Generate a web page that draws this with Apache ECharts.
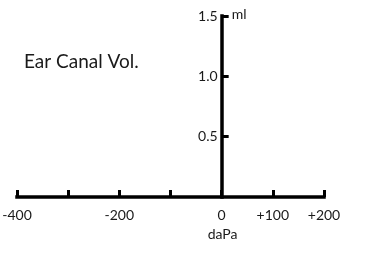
<!DOCTYPE html>
<html><head><meta charset="utf-8">
<script src="https://cdn.jsdelivr.net/npm/echarts@6/dist/echarts.min.js"></script>
<style>html,body{margin:0;padding:0;background:#fff}#c{width:375px;height:253px}</style>
</head><body><div id="c"></div>
<script>
var xTicks = [-400, -300, -200, -100, 0, 100, 200];
var xLabels = [-400, -200, 0, 100, 200];
var yLabels = [0.5, 1.0, 1.5];
var xRange = [-400, 200];
var yRange = [0, 1.5];
var titleText = 'Ear Canal Vol.';
var xName = 'daPa';
var yName = 'ml';
var seriesData = [];

var FONT = 'Lato, "Open Sans", sans-serif';
var GRID_LEFT = 17;
var chart = echarts.init(document.getElementById('c'), null, {renderer: 'canvas'});
var lineStyle = {color: '#000', width: 3.5, cap: 'square'};
chart.setOption({
  animation: false,
  title: {text: titleText, left: 19, top: 47,
    textStyle: {fontFamily: FONT, fontSize: 19, fontWeight: 'normal', color: '#1a1a1a'}},
  grid: {left: GRID_LEFT, right: 51, top: 16, bottom: 56, containLabel: false, outerBoundsMode: 'none'},
  xAxis: {type: 'value', min: xRange[0], max: xRange[1], interval: 100,
    splitLine: {show: false},
    axisLine: {lineStyle: lineStyle},
    axisTick: {inside: true, length: 7, lineStyle: {color: '#000', width: 3}, customValues: xTicks},
    axisLabel: {customValues: xLabels, margin: 11, fontFamily: FONT, fontSize: 14, color: '#1a1a1a',
      formatter: function (v) { return v > 0 ? '+' + v : String(v); }}
  },
  yAxis: {type: 'value', min: yRange[0], max: yRange[1], interval: 0.5,
    splitLine: {show: false},
    axisLine: {onZero: false, lineStyle: lineStyle},
    axisTick: {inside: true, length: 7, lineStyle: {color: '#000', width: 3}, customValues: yLabels},
    axisLabel: {customValues: yLabels, margin: 4, fontFamily: FONT, fontSize: 14, color: '#1a1a1a',
      formatter: function (v) { return v.toFixed(1); }}
  },
  series: [{type: 'line', data: seriesData}]
});
var p0 = chart.convertToPixel({gridIndex: 0}, [0, 0]);
chart.setOption({yAxis: {offset: -(p0[0] - GRID_LEFT)}});
p0 = chart.convertToPixel({gridIndex: 0}, [0, 0]);
var pTop = chart.convertToPixel({gridIndex: 0}, [0, yRange[1]]);
chart.setOption({
  graphic: [
    {type: 'text', left: p0[0] - 14, top: p0[1] + 30,
      style: {text: xName, font: '14px ' + FONT, fill: '#1a1a1a'}},
    {type: 'text', left: pTop[0] + 10, top: pTop[1] - 9,
      style: {text: yName, font: '14px ' + FONT, fill: '#1a1a1a'}}
  ]
});
</script></body></html>
